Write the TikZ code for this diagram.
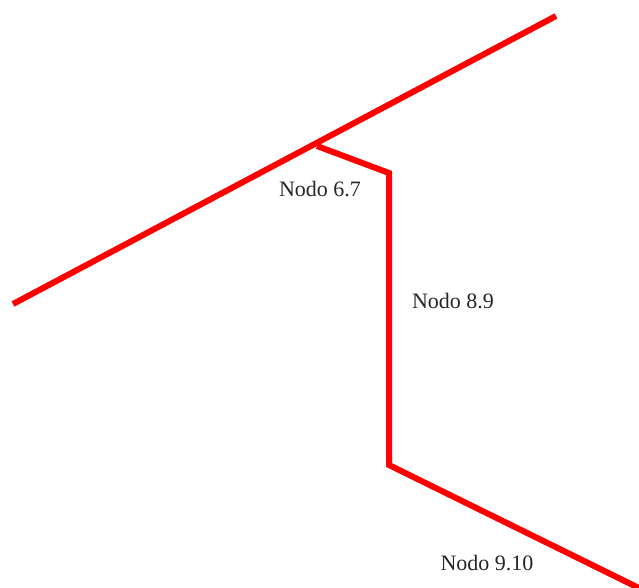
\documentclass[tikz,border=0pt]{standalone}
\usepackage{fontspec}
\setmainfont{Liberation Serif}
\begin{document}
\begin{tikzpicture}[x=1pt,y=-1pt,
  wire/.style={draw=red,line width=6pt,line join=miter},
  lbl/.style={font=\fontsize{22}{26}\selectfont,text=black!85,inner sep=0pt}]
\useasboundingbox (0,0) rectangle (639,587);
\coordinate (a) at (13,304);
\coordinate (b) at (556,16);
\coordinate (j) at (317,146);
\coordinate (c) at (389,173);
\coordinate (d) at (389,465);
\coordinate (e) at (645,591);
\draw[wire] (a) -- (b);
\draw[wire] (j) -- (c) -- (d) -- (e);
\node[lbl] (n67) at (320,189) {Nodo 6.7};
\node[lbl] (n89) at (453,301) {Nodo 8.9};
\node[lbl] (n910) at (487,563) {Nodo 9.10};
\end{tikzpicture}
\end{document}
